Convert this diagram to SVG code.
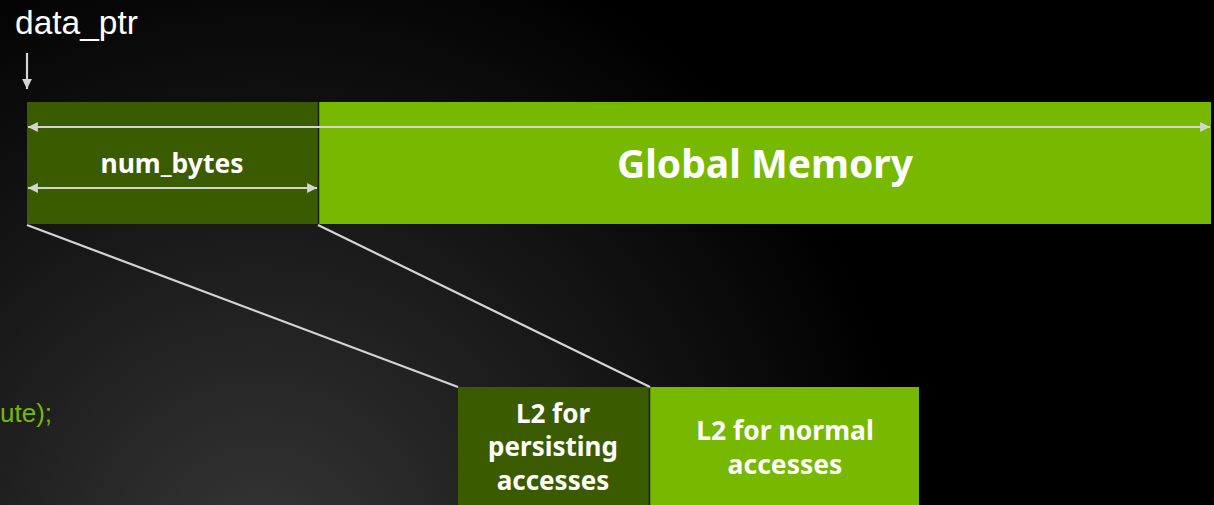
<svg xmlns="http://www.w3.org/2000/svg" width="1214" height="505" viewBox="0 0 1214 505">
  <defs>
    <radialGradient id="bg" cx="260" cy="560" r="820" gradientUnits="userSpaceOnUse">
      <stop offset="0" stop-color="#363636"/>
      <stop offset="0.45" stop-color="#171717"/>
      <stop offset="0.8" stop-color="#000000"/>
    </radialGradient>
    <marker id="head" viewBox="0 0 10 10" refX="10" refY="5" markerWidth="4.5" markerHeight="4.5" orient="auto-start-reverse" markerUnits="strokeWidth">
      <path d="M0,0 L10,5 L0,10 z" fill="#d4d4d4"/>
    </marker>
    <style>
      .dark { fill: #3b5b00; }
      .light { fill: #76b900; }
      .edge { stroke: #162200; stroke-width: 1.5; }
      .lbl { font-family: "Noto Sans", "DejaVu Sans", sans-serif; font-weight: bold; fill: #ffffff; text-anchor: middle; }
      .conn { stroke: #d4d4d4; stroke-width: 2.2; fill: none; }
    </style>
  </defs>

  <rect width="1214" height="505" fill="url(#bg)"/>

  <text x="15" y="34" font-family="Liberation Sans, Arial, sans-serif" font-size="33.5" fill="#ffffff">data_ptr</text>
  <text x="0" y="422" font-family="Liberation Sans, Arial, sans-serif" font-size="26" fill="#76b900">ute);</text>

  <g id="persisting-region">
    <rect class="dark" x="27" y="102" width="291" height="122"/>
    <text class="lbl" x="172" y="173" font-size="26.5">num_bytes</text>
  </g>
  <g id="global-memory">
    <rect class="light" x="319" y="102" width="892" height="122"/>
    <line class="edge" x1="318.5" y1="102" x2="318.5" y2="224"/>
    <text class="lbl" x="765" y="178" font-size="39">Global Memory</text>
  </g>
  <g id="l2-persisting">
    <rect class="dark" x="458" y="387" width="191" height="118"/>
    <text class="lbl" font-size="26"><tspan x="553" y="423">L2 for</tspan><tspan x="553" y="456">persisting</tspan><tspan x="553" y="490">accesses</tspan></text>
  </g>
  <g id="l2-normal">
    <rect class="light" x="650" y="387" width="269" height="118"/>
    <line class="edge" x1="649.5" y1="387" x2="649.5" y2="505"/>
    <text class="lbl" font-size="26.5"><tspan x="785" y="440">L2 for normal</tspan><tspan x="785" y="474">accesses</tspan></text>
  </g>

  <g id="connectors">
    <line class="conn" x1="27" y1="53" x2="27" y2="89" marker-end="url(#head)"/>
    <line class="conn" x1="28" y1="127" x2="1210" y2="127" marker-start="url(#head)" marker-end="url(#head)"/>
    <line class="conn" x1="28" y1="188" x2="317" y2="188" marker-start="url(#head)" marker-end="url(#head)"/>
    <line class="conn" x1="27" y1="225" x2="458" y2="387"/>
    <line class="conn" x1="318" y1="225" x2="650" y2="387"/>
  </g>
</svg>
